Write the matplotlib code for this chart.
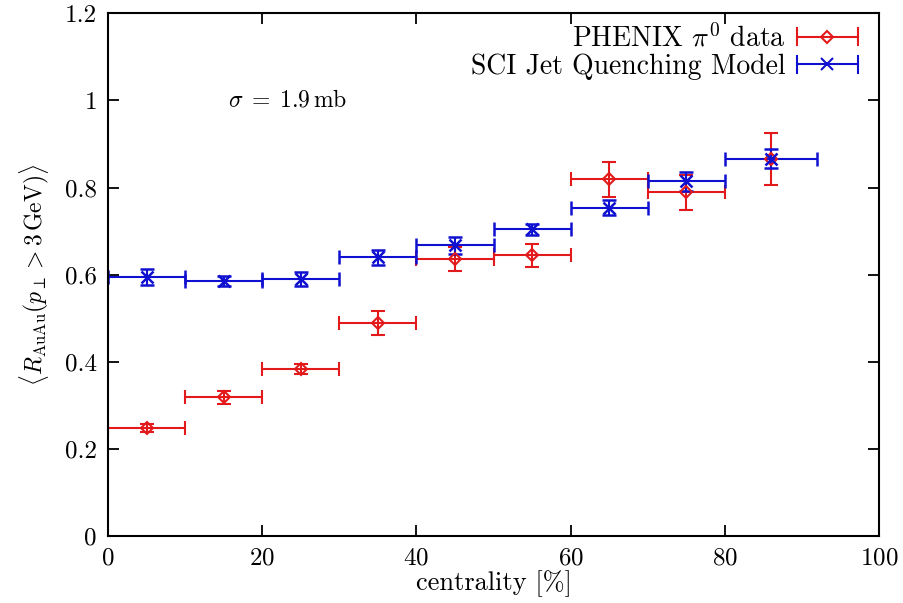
import numpy as np
import matplotlib.pyplot as plt
from matplotlib.lines import Line2D
from matplotlib.legend_handler import HandlerBase

plt.rcParams['font.family'] = 'cmr10'
plt.rcParams['mathtext.fontset'] = 'cm'
plt.rcParams['axes.formatter.use_mathtext'] = True

# PHENIX pi0 data
phx_x = [5, 15, 25, 35, 45, 55, 65, 75, 86]
phx_xerr = [5, 5, 5, 5, 5, 5, 5, 5, 0]
phx_y = [0.248, 0.319, 0.384, 0.489, 0.636, 0.644, 0.819, 0.789, 0.866]
phx_yerr = [0.010, 0.015, 0.012, 0.028, 0.028, 0.027, 0.040, 0.040, 0.060]

# SCI jet quenching model
sci_x = [5, 15, 25, 35, 45, 55, 65, 75, 86]
sci_xerr = [5, 5, 5, 5, 5, 5, 5, 5, 6]
sci_y = [0.594, 0.585, 0.590, 0.640, 0.667, 0.704, 0.754, 0.814, 0.866]
sci_yerr = [0.018, 0.012, 0.015, 0.017, 0.020, 0.012, 0.018, 0.022, 0.022]

RED = '#e31a1c'
BLUE = '#1010d0'


class BarHandler(HandlerBase):
    # gnuplot-like key sample: horizontal bar with end caps and marker in middle
    def __init__(self, marker, ms, mfc):
        super().__init__()
        self.marker, self.ms, self.mfc = marker, ms, mfc

    def create_artists(self, legend, orig, xd, yd, w, h, fs, trans):
        c = orig.get_color()
        y = h / 2 - yd
        x0, x1 = -xd, -xd + w
        cap = 0.45 * h
        arts = [Line2D([x0, x1], [y, y], color=c, lw=1.5),
                Line2D([x0, x0], [y - cap, y + cap], color=c, lw=1.5),
                Line2D([x1, x1], [y - cap, y + cap], color=c, lw=1.5),
                Line2D([(x0 + x1) / 2], [y], color=c, marker=self.marker, ms=self.ms,
                       mfc=self.mfc, mec=c, mew=1.5)]
        for a in arts:
            a.set_transform(trans)
        return arts


fig = plt.figure(figsize=(9.04, 6.03), dpi=100)
ax = fig.add_axes([0.1195, 0.111, 0.853, 0.867])

ax.errorbar(phx_x, phx_y, xerr=phx_xerr, yerr=phx_yerr, fmt='D', color=RED,
            mfc='none', mec=RED, ms=6, mew=1.5, elinewidth=1.5, capsize=5,
            capthick=1.5)
ax.errorbar(sci_x, sci_y, xerr=sci_xerr, yerr=sci_yerr, fmt='x', color=BLUE,
            ms=9, mew=1.8, elinewidth=1.5, capsize=5, capthick=1.5)

ax.text(15.5, 1.0, r'$\sigma\;=\;1.9\,$mb', fontsize=17, va='center')

ax.set_xlim(0, 100)
ax.set_ylim(0, 1.2)
ax.set_xticks(np.arange(0, 101, 20))
ax.set_yticks(np.arange(0, 1.21, 0.2))
ax.set_yticklabels(['0', '0.2', '0.4', '0.6', '0.8', '1', '1.2'])
ax.tick_params(direction='in', length=8, width=1.3, top=True, right=True, labelsize=18, pad=8)
for s in ax.spines.values():
    s.set_linewidth(1.5)

ax.set_xlabel(r'centrality [%]', fontsize=19, labelpad=1)
ax.set_ylabel(r'$\langle R_{\rm AuAu}(p_\perp > 3\,{\rm GeV})\rangle$', fontsize=17, labelpad=10)

h_phx = Line2D([], [], color=RED)
h_sci = Line2D([], [], color=BLUE)
ax.legend([h_phx, h_sci], [r'PHENIX $\pi^0$ data', 'SCI Jet Quenching Model'],
          handler_map={h_phx: BarHandler('D', 6, 'none'), h_sci: BarHandler('x', 9, BLUE)},
          loc='upper right', bbox_to_anchor=(1.005, 1.028), frameon=False,
          markerfirst=False, fontsize=20, handlelength=2.2, handletextpad=0.4,
          labelspacing=0.05)

fig.savefig('out.png', dpi=100)
